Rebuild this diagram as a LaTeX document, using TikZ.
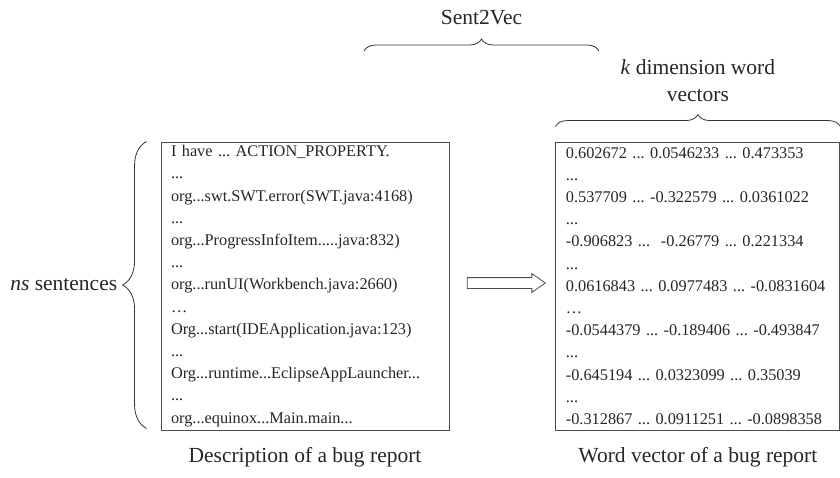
\documentclass[tikz,border=0pt]{standalone}
\usepackage{fontspec}
\setmainfont{Liberation Serif}
\usetikzlibrary{positioning,shapes.arrows,decorations.pathreplacing,calc}
\frenchspacing

\begin{document}
\begin{tikzpicture}[x=1pt,y=-1pt,node distance=106pt,box/.style={draw=black!70,line width=0.9pt,align=left,inner xsep=10pt,inner ysep=0pt,minimum height=288pt,font=\fontsize{16.3}{22.2}\selectfont,text=black!85},lbl/.style={font=\fontsize{21.5}{27}\selectfont,align=center,text=black!85,inner sep=0pt},brc/.style={decorate,decoration={brace,amplitude=#1},line width=0.8pt,draw=black!80},brc/.default=12pt,blockarr/.style={draw=black!70,line width=0.8pt,single arrow,single arrow tip angle=70,single arrow head extend=4pt,minimum width=18pt,minimum height=78pt,inner xsep=0pt,inner ysep=5pt}]
\useasboundingbox (0,0) rectangle (840,477);
\node[box,text width=268pt] (desc) at (305,286) {I have ... ACTION\_PROPERTY.\\...\\org...swt.SWT.error(SWT.java:4168)\\...\\org...ProgressInfoItem.....java:832)\\...\\org...runUI(Workbench.java:2660)\\…\\Org...start(IDEApplication.java:123)\\...\\Org...runtime...EclipseAppLauncher...\\...\\org...equinox...Main.main...};
\node[box,text width=264pt,right=of desc] (vec) {0.602672 ... 0.0546233 ... 0.473353\\...\\0.537709 ... -0.322579 ... 0.0361022\\...\\-0.906823 ...\ \ -0.26779 ... 0.221334\\...\\0.0616843 ... 0.0977483 ... -0.0831604\\…\\-0.0544379 ... -0.189406 ... -0.493847\\...\\-0.645194 ... 0.0323099 ... 0.35039\\...\\-0.312867 ... 0.0911251 ... -0.0898358};
\node[blockarr,yshift=3pt] (arr) at ($(desc.east)!0.5!(vec.west)$) {};
\node[lbl] (desccap) at ([yshift=-27pt]desc.south) {Description of a bug report};
\node[lbl] (veccap) at ([yshift=-27pt]vec.south) {Word vector of a bug report};
\draw[brc=24pt] ([xshift=-14pt,yshift=2pt]desc.south west) -- ([xshift=-14pt]desc.north west) node[lbl,midway,left=29pt] (sent) {\textit{ns} sentences};
\coordinate (s2vL) at (364,51);
\coordinate (s2vR) at (599,51);
\draw[brc] (s2vL) -- (s2vR) node[lbl,midway,yshift=33pt] (s2v) {Sent2Vec};
\draw[brc] ([yshift=15pt]vec.north west) -- ([yshift=15pt]vec.north east) node[lbl,midway,yshift=46pt] (kdim) {\textit{k} dimension word\\vectors};
\end{tikzpicture}
\end{document}
